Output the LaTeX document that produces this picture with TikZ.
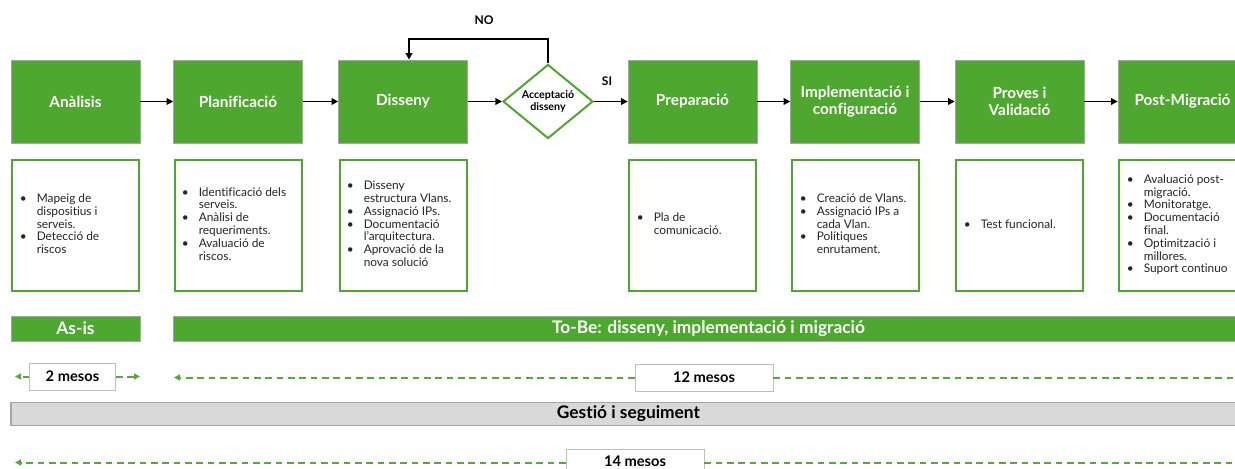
\documentclass[tikz,border=0pt]{standalone}
\usepackage{fontspec}
\setmainfont{Lato}[Ligatures={NoCommon}]
\usetikzlibrary{arrows.meta,shapes.geometric}
\definecolor{og}{HTML}{4EA72E}
\definecolor{dg}{HTML}{58A83A}
\definecolor{bord}{HTML}{A6A6A6}
\definecolor{mbord}{HTML}{BFBFBF}
\definecolor{gband}{HTML}{D9D9D9}
\newcommand{\blist}[1]{{\fontsize{8.9}{9.6}\selectfont\begin{tabular}{@{}p{12.75pt}@{}l@{}}#1\end{tabular}}}
\begin{document}
\begin{tikzpicture}[x=0.75pt,y=-0.75pt,
  gbox/.style={draw=bord,line width=0.5pt,fill=og,text=white,minimum width=96.75pt,minimum height=62.25pt,inner sep=0pt,align=center,font=\bfseries\fontsize{11.5}{13}\selectfont},
  lbox/.style={draw=og,line width=1.5pt,fill=white,minimum width=95.25pt,minimum height=98.25pt,inner sep=0pt},
  txt/.style={anchor=west,inner sep=0pt,text=black!85},
  diam/.style={diamond,draw=og,line width=1.5pt,fill=white,minimum width=67.5pt,minimum height=53.25pt,inner sep=0pt,align=center,font=\bfseries\fontsize{8}{9}\selectfont},
  arr/.style={draw=black,line width=1.2pt,-{Triangle[length=5pt,width=5pt]}},
  gdash/.style={draw=dg,line width=1.5pt,dash pattern=on 5pt off 3.5pt},
  ghead/.style={-{Triangle[length=4.5pt,width=4.5pt]}},
  band/.style={draw=bord,line width=0.5pt,fill=og,text=white,minimum height=18.75pt,inner sep=0pt,font=\bfseries\fontsize{13}{15}\selectfont},
  gband/.style={draw=bord,line width=1pt,fill=gband,text=black,minimum height=17.25pt,inner sep=0pt,font=\bfseries\fontsize{13}{15}\selectfont},
  mbox/.style={draw=mbord,line width=0.5pt,fill=white,minimum height=20.25pt,inner sep=0pt,font=\bfseries\fontsize{11}{13}\selectfont},
  mtxt/.style={inner sep=0pt,font=\bfseries\fontsize{11}{13}\selectfont},
  lbl/.style={inner sep=0pt,font=\bfseries\fontsize{9}{11}\selectfont}
]
\useasboundingbox[fill=white] (0,0) rectangle (1235,468);
\clip (0,0) rectangle (1235,468);

% top row
\node[gbox] (an) at (75.5,101.5) {Anàlisis};
\node[gbox] (pl) at (238,101.5) {Planificació};
\node[gbox] (di) at (403,101.5) {Disseny};
\node[diam] (ac) at (548,101.5) {Acceptació\\disseny};
\node[gbox] (pr) at (692.5,101.5) {Preparació};
\node[gbox] (im) at (855,101.5) {Implementació i\\configuració};
\node[gbox] (pv) at (1019.5,101.5) {Proves i\\Validació};
\node[gbox] (pm) at (1182.5,101.5) {Post-Migració};

\draw[arr] (an) -- (pl);
\draw[arr] (pl) -- (di);
\draw[arr] (di) -- (ac);
\draw[arr] (ac) -- (pr);
\draw[arr] (pr) -- (im);
\draw[arr] (im) -- (pv);
\draw[arr] (pv) -- (pm);

\coordinate (nol) at (409,39);
\draw[arr] (ac.north) |- (nol) -- (nol |- di.north);
\node[lbl] (no) at (484,20) {NO};
\node[lbl] (si) at (607,81) {SI};

% detail boxes
\node[lbox] (b1) at (75.5,225.5) {};
\node[lbox] (b2) at (238,225.5) {};
\node[lbox] (b3) at (403,225.5) {};
\node[lbox] (b4) at (692.5,225.5) {};
\node[lbox] (b5) at (855,225.5) {};
\node[lbox] (b6) at (1019.5,225.5) {};
\node[lbox] (b7) at (1182.5,225.5) {};

\node[txt] (t1) at (19.5,225.5) {\blist{\textbullet & Mapeig de\\ & dispositius i\\ & serveis.\\ \textbullet & Detecció de\\ & riscos}};
\node[txt] (t2) at (181.5,225.5) {\blist{\textbullet & Identificació dels\\ & serveis.\\ \textbullet & Anàlisi de\\ & requeriments.\\ \textbullet & Avaluació de\\ & riscos.}};
\node[txt] (t3) at (346.5,225.5) {\blist{\textbullet & Disseny\\ & estructura Vlans.\\ \textbullet & Assignació IPs.\\ \textbullet & Documentació\\ & l’arquitectura.\\ \textbullet & Aprovació de la\\ & nova solució}};
\node[txt] (t4) at (636.5,225.5) {\blist{\textbullet & Pla de\\ & comunicació.}};
\node[txt] (t5) at (799.5,225.5) {\blist{\textbullet & Creació de Vlans.\\ \textbullet & Assignació IPs a\\ & cada Vlan.\\ \textbullet & Polítiques\\ & enrutament.}};
\node[txt] (t6) at (963.5,225.5) {\blist{\textbullet & Test funcional.}};
\node[txt] (t7) at (1126.5,225.5) {\blist{\textbullet & Avaluació post-\\ & migració.\\ \textbullet & Monitoratge.\\ \textbullet & Documentació\\ & final.\\ \textbullet & Optimització i\\ & millores.\\ \textbullet & Suport continuo}};

% bands
\node[band,minimum width=96.75pt] (asis) at (75.5,328.5) {As-is};
\node[band,minimum width=803.25pt] (tobe) at (708.5,328.5) {To-Be: disseny, implementació i migració};
\node[gband,minimum width=926.25pt] (gs) at (628.5,414) {Gestió i seguiment};

% durations
\node[mbox,minimum width=64.5pt] (m2) at (72.5,376.5) {2 mesos};
\node[mbox,minimum width=103.5pt] (m12) at (704,377.5) {12 mesos};
\node[mbox,minimum width=103.5pt] (m14) at (635,462.5) {};
\node[mtxt] (m14t) at (635,461.5) {14 mesos};

\coordinate (m2l) at (15,376.5);
\coordinate (m2r) at (140,376.5);
\coordinate (m12l) at (174,377.5);
\coordinate (m12r) at (1240,377.5);
\coordinate (m14l) at (15,462.5);
\coordinate (m14r) at (1240,462.5);

\draw[gdash,ghead] (m2.west) -- (m2l);
\draw[gdash,ghead] (m2.east) -- (m2r);
\draw[gdash,ghead] (m12.west) -- (m12l);
\draw[gdash] (m12.east) -- (m12r);
\draw[gdash,ghead] (m14.west) -- (m14l);
\draw[gdash] (m14.east) -- (m14r);
\end{tikzpicture}
\end{document}
